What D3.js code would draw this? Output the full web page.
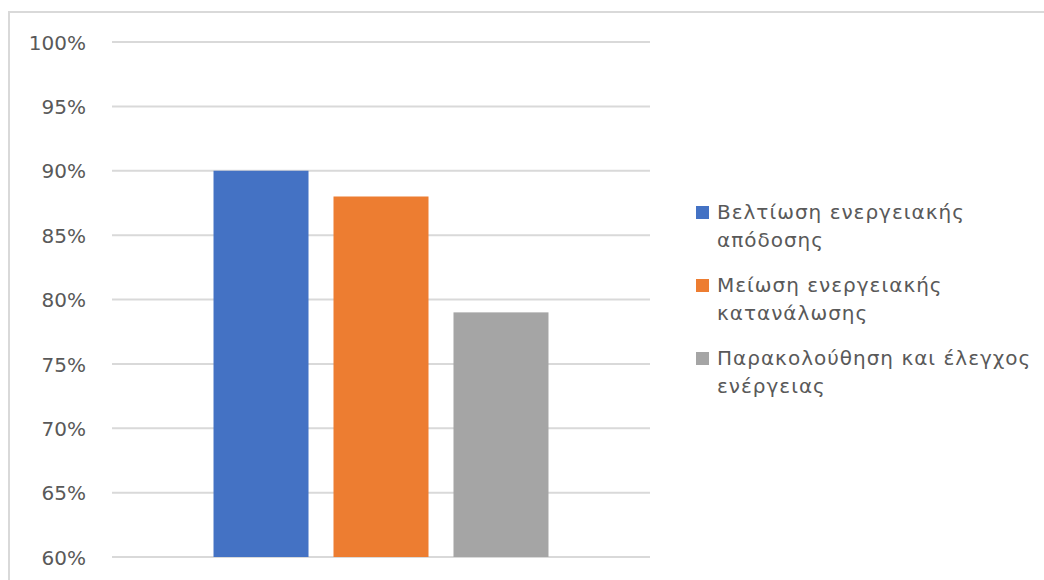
<!DOCTYPE html>
<html>
<head>
<meta charset="utf-8">
<script src="https://cdn.jsdelivr.net/npm/d3@7"></script>
<style>
  html, body { margin: 0; padding: 0; background: #fff; }
  svg { display: block; }
  text { font-family: "DejaVu Sans", "Open Sans", sans-serif; fill: #595959; }
</style>
</head>
<body>
<svg id="chart" width="1044" height="580"></svg>
<script>
// Share of respondents per energy-management goal
const series = [
  "Βελτίωση ενεργειακής απόδοσης",
  "Μείωση ενεργειακής κατανάλωσης",
  "Παρακολούθηση και έλεγχος ενέργειας"
];
const legendLines = [
  ["Βελτίωση ενεργειακής", "απόδοσης"],
  ["Μείωση ενεργειακής", "κατανάλωσης"],
  ["Παρακολούθηση και έλεγχος", "ενέργειας"]
];
const values = [0.90, 0.88, 0.79];
const colors = ["#4472C4", "#ED7D31", "#A5A5A5"];
const yTicks = [0.60, 0.65, 0.70, 0.75, 0.80, 0.85, 0.90, 0.95, 1.00];

const svg = d3.select("#chart");

// chart frame
svg.append("rect")
  .attr("x", 9).attr("y", 12)
  .attr("width", 1060).attr("height", 600)
  .attr("fill", "none")
  .attr("stroke", "#d9d9d9")
  .attr("stroke-width", 2);

const plot = { left: 112, right: 650, top: 42, bottom: 557 };

const y = d3.scaleLinear()
  .domain([0.60, 1.00])
  .range([plot.bottom, plot.top]);

const x = d3.scaleBand()
  .domain(series)
  .range([plot.left, plot.right])
  .paddingInner(0.2083)
  .paddingOuter(0.846);

// horizontal gridlines
svg.append("g")
  .selectAll("line")
  .data(yTicks)
  .join("line")
  .attr("x1", plot.left).attr("x2", plot.right)
  .attr("y1", d => y(d)).attr("y2", d => y(d))
  .attr("stroke", "#d9d9d9")
  .attr("stroke-width", 2);

// y axis labels
const yAxis = d3.axisLeft(y)
  .tickValues(yTicks)
  .tickFormat(d3.format(".0%"))
  .tickSize(0)
  .tickPadding(26);

const gy = svg.append("g")
  .attr("transform", `translate(${plot.left},0)`)
  .call(yAxis);
gy.select(".domain").remove();
gy.selectAll("text")
  .attr("font-family", "'DejaVu Sans', 'Open Sans', sans-serif")
  .attr("font-size", 20)
  .attr("fill", "#595959")
  .attr("dy", "0.36em");

// bars
svg.append("g")
  .selectAll("rect")
  .data(values)
  .join("rect")
  .attr("x", (d, i) => x(series[i]))
  .attr("width", x.bandwidth())
  .attr("y", d => y(d))
  .attr("height", d => y(0.60) - y(d))
  .attr("fill", (d, i) => colors[i]);

// legend
const legend = svg.append("g");
const itemGap = 73, lineGap = 28;
legendLines.forEach((lines, i) => {
  const base = 219 + i * itemGap;
  legend.append("rect")
    .attr("x", 696).attr("y", base - 6 - 7)
    .attr("width", 13).attr("height", 13)
    .attr("fill", colors[i]);
  const t = legend.append("text")
    .attr("x", 717).attr("y", base)
    .attr("font-size", 20)
    .attr("letter-spacing", 1);
  lines.forEach((ln, j) => {
    t.append("tspan")
      .attr("x", 717)
      .attr("y", base + j * lineGap)
      .text(ln);
  });
});
</script>
</body>
</html>
